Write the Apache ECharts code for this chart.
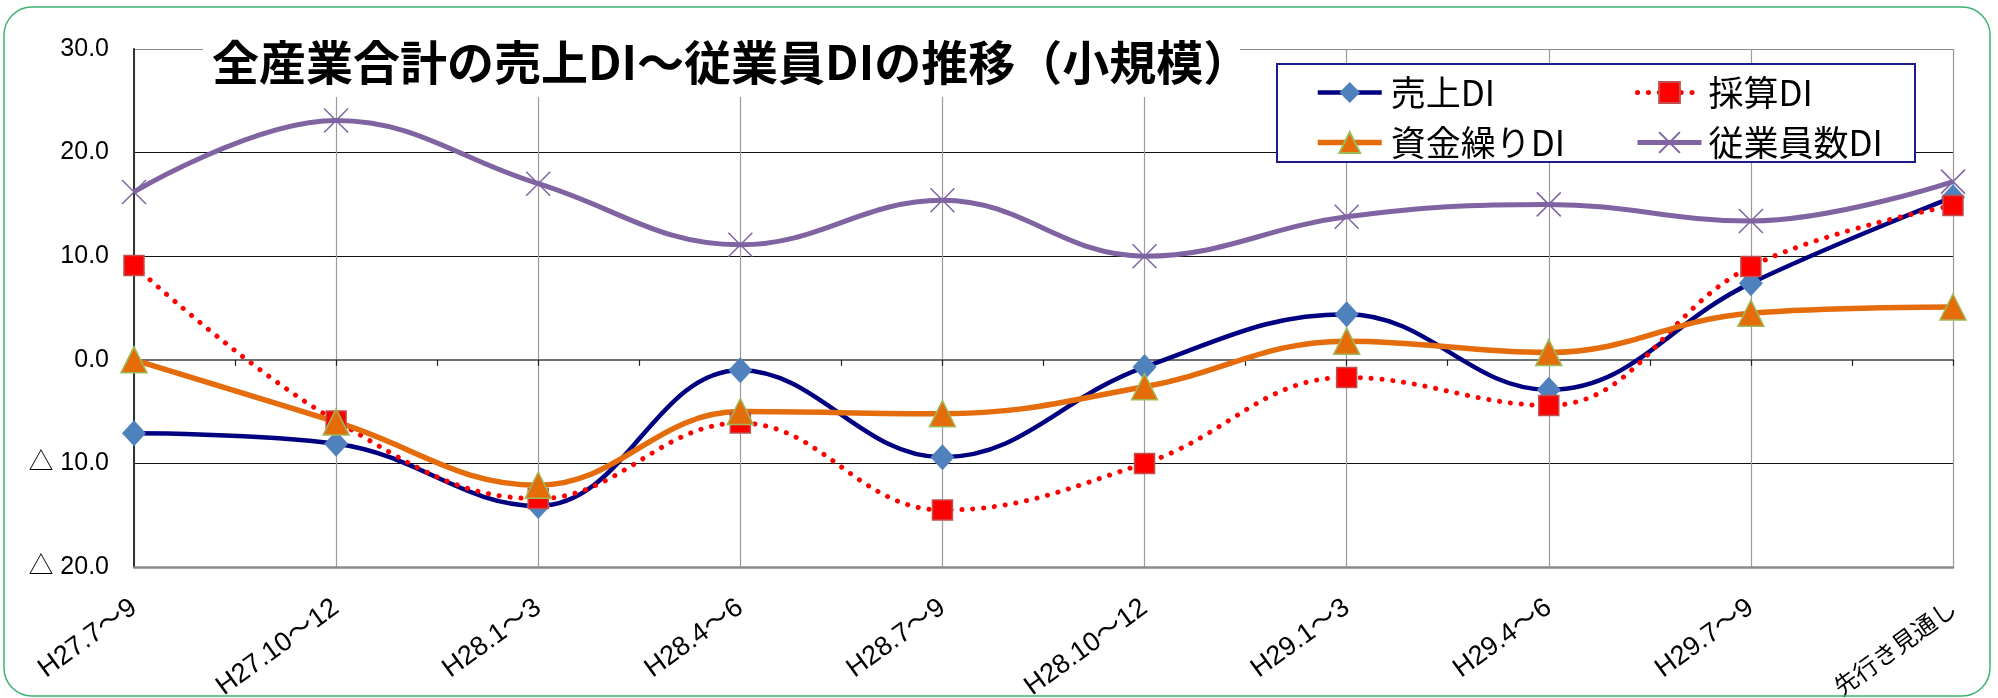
<!DOCTYPE html>
<html>
<head>
<meta charset="utf-8">
<script src="https://cdn.jsdelivr.net/npm/echarts@6/dist/echarts.min.js"></script>
<style>
html,body{margin:0;padding:0;background:#fff;}
#chart{width:1998px;height:698px;}
</style>
</head>
<body>
<div id="chart"></div>
<script>
const categories = ['H27.7～9','H27.10～12','H28.1～3','H28.4～6','H28.7～9','H28.10～12','H29.1～3','H29.4～6','H29.7～9','先行き見通し'];
const uriageDI   = [-7.1, -8.1, -14.1, -1.0, -9.4, -0.7, 4.4, -2.9, 7.4, 15.7];
const saisanDI   = [9.1, -5.9, -13.4, -6.1, -14.5, -10.0, -1.7, -4.4, 9.0, 14.9];
const shikinDI   = [0.0, -6.0, -12.1, -5.0, -5.2, -2.6, 1.8, 0.7, 4.5, 5.1];
const jugyoinDI  = [16.2, 23.1, 17.0, 11.1, 15.4, 10.0, 13.8, 15.0, 13.4, 17.2];
const yTickValues = [-20, -10, 0, 10, 20, 30];
const yTickLabels = ['△ 20.0', '△ 10.0', '0.0', '10.0', '20.0', '30.0'];
const seriesNames = ['売上DI', '採算DI', '資金繰りDI', '従業員数DI'];
const titleText = '全産業合計の売上DI～従業員DIの推移（小規模）';

const latin = '"Liberation Sans", "Noto Sans CJK JP", sans-serif';
const cjk = '"Noto Sans CJK JP", sans-serif';

const chart = echarts.init(document.getElementById('chart'), null, {renderer: 'canvas'});
const legendCommon = {
  orient: 'vertical', top: 70, z: 6,
  itemWidth: 64, itemHeight: 26, itemGap: 15,
  lineStyle: {width: 'inherit'},
  textStyle: {fontSize: 35, fontFamily: cjk, color: '#000'}
};
const option = {
  backgroundColor: '#ffffff',
  animation: false,
  grid: {left: 134, right: 45, top: 49, bottom: 131, containLabel: false, outerBoundsMode: 'none'},
  graphic: [
    {type: 'rect', z: 1, silent: true,
     shape: {x: 4, y: 7, width: 1986, height: 689, r: 28},
     style: {fill: 'none', stroke: '#3cb371', lineWidth: 1.5}},
    {type: 'rect', z: 3, silent: true,
     shape: {x: 203, y: 20, width: 1037, height: 77},
     style: {fill: '#ffffff', stroke: 'none'}},
    {type: 'text', z: 6, silent: true, x: 212, y: 62,
     style: {text: titleText, fill: '#000', font: 'bold 47px ' + cjk, textVerticalAlign: 'middle', textAlign: 'left'}},
    {type: 'rect', z: 3, silent: true,
     shape: {x: 1277, y: 64, width: 638, height: 98},
     style: {fill: '#ffffff', stroke: '#1c1c8c', lineWidth: 2}}
  ],
  legend: [
    Object.assign({}, legendCommon, {data: [seriesNames[0], seriesNames[2]], left: 1310,
      textStyle: Object.assign({}, legendCommon.textStyle, {padding: [0, 0, 0, 4]})}),
    Object.assign({}, legendCommon, {data: [seriesNames[1], seriesNames[3]], left: 1630,
      textStyle: Object.assign({}, legendCommon.textStyle, {padding: [0, 0, 0, 2]})})
  ],
  xAxis: [
    {type: 'category', data: categories, boundaryGap: false, position: 'bottom',
     axisLine: {onZero: false, lineStyle: {color: '#8a8a8a', width: 2.5}},
     axisTick: {show: false},
     splitLine: {show: true, lineStyle: {color: '#9a9a9a', width: 1.2}},
     axisLabel: {rotate: 36, margin: 38, fontSize: 27, fontFamily: latin, color: '#000', interval: 0,
       formatter: function (v) { return /^H/.test(v) ? v : '{c|' + v + '}'; },
       rich: {c: {fontSize: 24, fontFamily: cjk, color: '#000'}}}},
    {type: 'value', min: 0, max: 9, interval: 0.5, position: 'bottom',
     axisLine: {show: true, onZero: true, onZeroAxisIndex: 0, lineStyle: {color: '#707070', width: 2}},
     axisTick: {show: true, length: 6, lineStyle: {color: '#222', width: 1.2}},
     axisLabel: {show: false}, splitLine: {show: false}}
  ],
  yAxis: {
    type: 'value', min: -20, max: 30, interval: 10,
    axisLine: {show: true, onZero: false, lineStyle: {color: '#333', width: 2}},
    axisTick: {show: false},
    splitLine: {show: true, lineStyle: {color: ['#8a8a8a', '#111', '#707070', '#111', '#111', '#8a8a8a'], width: 1.2}},
    axisLabel: {margin: 25, fontSize: 25, fontFamily: latin, color: '#000',
      formatter: function (v) { const i = yTickValues.indexOf(v); return i >= 0 ? yTickLabels[i] : ''; }}
  },
  series: [
    {name: seriesNames[0], type: 'line', data: uriageDI, smooth: 0.4, xAxisIndex: 0,
     symbol: 'diamond', symbolSize: [24, 26],
     lineStyle: {color: '#000080', width: 4.5},
     itemStyle: {color: '#4f81bd'}},
    {name: seriesNames[1], type: 'line', data: saisanDI, smooth: 0.4, xAxisIndex: 0,
     symbol: 'rect', symbolSize: 20,
     lineStyle: {color: '#ff0000', width: 5, type: [0.1, 10.8], cap: 'round'},
     itemStyle: {color: '#ff0000', borderColor: '#c0504d', borderWidth: 1.5}},
    {name: seriesNames[2], type: 'line', data: shikinDI, smooth: 0.4, xAxisIndex: 0,
     symbol: 'triangle', symbolSize: [26, 26],
     lineStyle: {color: '#e46c0a', width: 5.5},
     itemStyle: {color: '#e46c0a', borderColor: '#9bbb59', borderWidth: 1.5}},
    {name: seriesNames[3], type: 'line', data: jugyoinDI, smooth: 0.4, xAxisIndex: 0,
     symbol: 'path://M0,0L10,10M10,0L0,10', symbolSize: 24,
     lineStyle: {color: '#8064a2', width: 5},
     itemStyle: {color: '#8064a2', borderColor: '#8064a2', borderWidth: 1.5}}
  ]
};
chart.setOption(option);
</script>
</body>
</html>
